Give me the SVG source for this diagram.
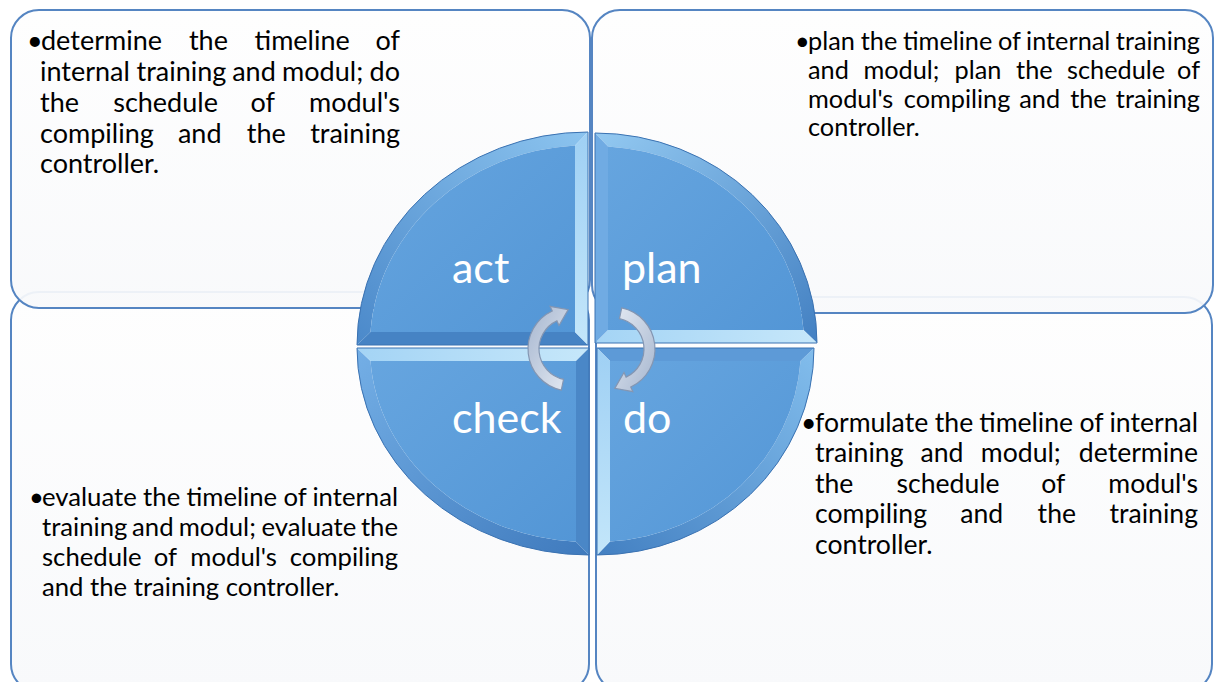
<svg xmlns="http://www.w3.org/2000/svg" width="1215" height="682" viewBox="0 0 1215 682">
<style>
.box{fill:url(#boxFill);stroke:#5585c2;stroke-width:2}
.boxTop{fill:url(#boxFill);fill-opacity:0.93;stroke:#5585c2;stroke-width:2}
.t{font-family:Lato,"Liberation Sans",sans-serif;fill:#000}
.tl{font-size:27px}
.tr{font-size:25.3px}
.bl{font-size:25.7px}
.br{font-size:26.6px}
.lbl{font-family:Lato,"Liberation Sans",sans-serif;font-size:43px;fill:#fff}
.face{fill:url(#faceFill)}
.rim{fill:none;stroke:#3a72b2;stroke-width:1}
.arrow{fill:url(#arrowFill);stroke:#8496b2;stroke-width:1.2}
</style>
<defs>
<linearGradient id="boxFill" x1="0" y1="0" x2="0" y2="1">
<stop offset="0" stop-color="#fefefe"/><stop offset="1" stop-color="#f8f9fb"/>
</linearGradient>
<linearGradient id="faceFill" x1="0" y1="0" x2="1" y2="1">
<stop offset="0" stop-color="#66a5df"/><stop offset="1" stop-color="#5396d6"/>
</linearGradient>
<linearGradient id="arrowFill" x1="0" y1="0" x2="1" y2="1">
<stop offset="0" stop-color="#e3e9f2"/><stop offset="1" stop-color="#a6b6cf"/>
</linearGradient>
<linearGradient id="actArc" x1="1" y1="0" x2="0" y2="1">
<stop offset="0" stop-color="#8cc4ef"/><stop offset="1" stop-color="#4b89ca"/>
</linearGradient>
<linearGradient id="planArc" x1="0" y1="0" x2="1" y2="1">
<stop offset="0" stop-color="#93c9f1"/><stop offset="1" stop-color="#4380c2"/>
</linearGradient>
<linearGradient id="checkArc" x1="0" y1="0" x2="1" y2="1">
<stop offset="0" stop-color="#74afe6"/><stop offset="1" stop-color="#3f7abd"/>
</linearGradient>
<linearGradient id="doArc" x1="1" y1="0" x2="0" y2="1">
<stop offset="0" stop-color="#82bdec"/><stop offset="1" stop-color="#4380c2"/>
</linearGradient>
<linearGradient id="brightV" x1="0" y1="0" x2="0" y2="1">
<stop offset="0" stop-color="#9fd0f4"/><stop offset="1" stop-color="#c3e6fa"/>
</linearGradient>
<linearGradient id="brightH" x1="0" y1="0" x2="1" y2="0">
<stop offset="0" stop-color="#a4d4f5"/><stop offset="1" stop-color="#c6e7fa"/>
</linearGradient>
</defs>

<g id="box-check">
<rect class="box" x="11" y="292" width="578" height="400" rx="28"/>
</g>
<g id="box-do">
<rect class="box" x="596" y="297" width="616" height="395" rx="28"/>
</g>
<g id="box-act">
<rect class="boxTop" x="11" y="10" width="579" height="298" rx="28"/>
</g>
<g id="box-plan">
<rect class="boxTop" x="592" y="10" width="621" height="303" rx="28"/>
</g>

<g id="text-act" class="t tl">
<text x="27" y="50">•</text>
<text y="50"><tspan x="41">determine</tspan><tspan x="188.9">the</tspan><tspan x="254.5">timeline</tspan><tspan x="400" text-anchor="end">of</tspan></text>
<text y="81"><tspan x="40">internal</tspan><tspan x="136.5">training</tspan><tspan x="232.2">and</tspan><tspan x="282.1">modul;</tspan><tspan x="400" text-anchor="end">do</tspan></text>
<text y="112"><tspan x="40">the</tspan><tspan x="113.2">schedule</tspan><tspan x="250.4">of</tspan><tspan x="400" text-anchor="end">modul's</tspan></text>
<text y="143"><tspan x="40">compiling</tspan><tspan x="177.9">and</tspan><tspan x="246.8">the</tspan><tspan x="400" text-anchor="end">training</tspan></text>
<text y="173" x="40">controller.</text>
</g>

<g id="text-plan" class="t tr">
<text x="795" y="50">•</text>
<text y="50"><tspan x="808">plan</tspan><tspan x="860.8">the</tspan><tspan x="903">timeline</tspan><tspan x="997.9">of</tspan><tspan x="1026.1">internal</tspan><tspan x="1200" text-anchor="end">training</tspan></text>
<text y="79"><tspan x="808">and</tspan><tspan x="863.4">modul;</tspan><tspan x="954.6">plan</tspan><tspan x="1016.1">the</tspan><tspan x="1067">schedule</tspan><tspan x="1200" text-anchor="end">of</tspan></text>
<text y="108"><tspan x="808">modul's</tspan><tspan x="903.8">compiling</tspan><tspan x="1019.3">and</tspan><tspan x="1070.2">the</tspan><tspan x="1200" text-anchor="end">training</tspan></text>
<text y="136" x="808">controller.</text>
</g>

<g id="text-check" class="t bl">
<text x="29" y="506">•</text>
<text y="506"><tspan x="42">evaluate</tspan><tspan x="143.1">the</tspan><tspan x="186.5">timeline</tspan><tspan x="283.4">of</tspan><tspan x="398" text-anchor="end">internal</tspan></text>
<text y="536"><tspan x="42">training</tspan><tspan x="132.1">and</tspan><tspan x="178.7">modul;</tspan><tspan x="261.6">evaluate</tspan><tspan x="398" text-anchor="end">the</tspan></text>
<text y="566"><tspan x="42">schedule</tspan><tspan x="153.7">of</tspan><tspan x="190.3">modul's</tspan><tspan x="398" text-anchor="end">compiling</tspan></text>
<text y="596" x="42">and the training controller.</text>
</g>

<g id="text-do" class="t br">
<text x="801" y="432">•</text>
<text y="432"><tspan x="815">formulate</tspan><tspan x="934.8">the</tspan><tspan x="979.3">timeline</tspan><tspan x="1079.4">of</tspan><tspan x="1198" text-anchor="end">internal</tspan></text>
<text y="462"><tspan x="815">training</tspan><tspan x="920.5">and</tspan><tspan x="980.8">modul;</tspan><tspan x="1198" text-anchor="end">determine</tspan></text>
<text y="493"><tspan x="815">the</tspan><tspan x="896.5">schedule</tspan><tspan x="1041.2">of</tspan><tspan x="1198" text-anchor="end">modul's</tspan></text>
<text y="523"><tspan x="815">compiling</tspan><tspan x="960.3">and</tspan><tspan x="1037.6">the</tspan><tspan x="1198" text-anchor="end">training</tspan></text>
<text y="554" x="815">controller.</text>
</g>

<g id="node-act">
<path fill="url(#actArc)" d="M357,345 A231 213 0 0 1 588,132 L575,145.4 A218 200 0 0 0 370.5,332 Z"/>
<path fill="#4683c4" d="M588,345 L357,345 L370.5,332 L575,332 Z"/>
<path fill="url(#brightV)" d="M588,345 L588,132 L575,145.4 L575,332 Z"/>
<path class="face" d="M575,332 L370.5,332 A218 200 0 0 1 575,145.4 Z"/>
<path class="rim" d="M588,345 L357,345 A231 213 0 0 1 588,132 Z"/>
<text class="lbl" x="452" y="283">act</text>
</g>
<g id="node-plan">
<path fill="url(#planArc)" d="M595,133 A222 210 0 0 1 817,343 L803.5,330 A209 197 0 0 0 608,146.4 Z"/>
<path fill="url(#brightH)" d="M595,343 L817,343 L803.5,330 L608,330 Z"/>
<path fill="#70abe3" d="M595,343 L595,133 L608,146.4 L608,330 Z"/>
<path class="face" d="M608,330 L608,146.4 A209 197 0 0 1 803.5,330 Z"/>
<path class="rim" d="M595,343 L595,133 A222 210 0 0 1 817,343 Z"/>
<text class="lbl" x="622" y="283">plan</text>
</g>
<g id="node-check">
<path fill="url(#checkArc)" d="M589,555 A232 207 0 0 1 357,348 L370.5,361 A219 194 0 0 0 576,541.7 Z"/>
<path fill="url(#brightH)" d="M589,348 L357,348 L370.5,361 L576,361 Z"/>
<path fill="#4a87c7" d="M589,348 L589,555 L576,541.7 L576,361 Z"/>
<path class="face" d="M576,361 L370.5,361 A219 194 0 0 0 576,541.7 Z"/>
<path class="rim" d="M589,348 L357,348 A232 207 0 0 0 589,555 Z"/>
<text class="lbl" x="452" y="433">check</text>
</g>
<g id="node-do">
<path fill="url(#doArc)" d="M814,348 A217 207 0 0 1 597,555 L610,541.6 A204 194 0 0 0 800.5,361 Z"/>
<path fill="#5d9ad7" d="M597,348 L814,348 L800.5,361 L610,361 Z"/>
<path fill="url(#brightV)" d="M597,348 L597,555 L610,541.6 L610,361 Z"/>
<path class="face" d="M610,361 L800.5,361 A204 194 0 0 1 610,541.6 Z"/>
<path class="rim" d="M597,348 L814,348 A217 207 0 0 1 597,555 Z"/>
<text class="lbl" x="623" y="433">do</text>
</g>

<g id="connectors">
<path class="arrow" d="M621.73,307.92 A42 42 0 0 1 630.75,387.06 L632.86,391.6 L614.8,388.4 L623.99,372.56 L626.1,377.1 A31 31 0 0 0 619.45,318.68 Z"/>
<path class="arrow" transform="rotate(180 591.5 349)" d="M621.73,307.92 A42 42 0 0 1 630.75,387.06 L632.86,391.6 L614.8,388.4 L623.99,372.56 L626.1,377.1 A31 31 0 0 0 619.45,318.68 Z"/>
</g>
</svg>
